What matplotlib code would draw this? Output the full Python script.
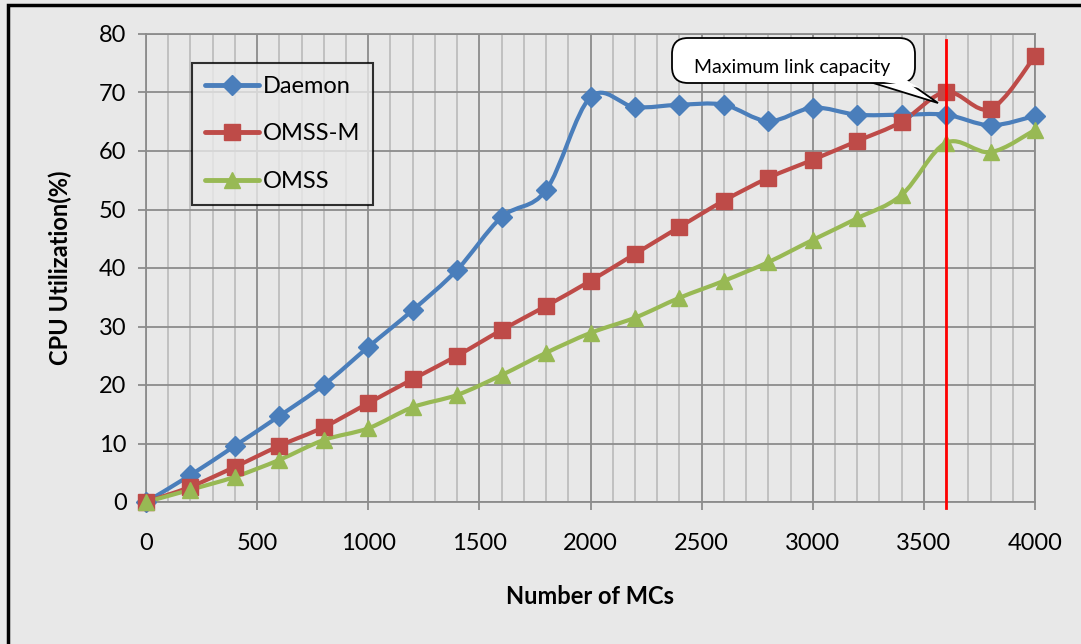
import numpy as np
import matplotlib.pyplot as plt
from matplotlib.path import Path
from matplotlib.patches import PathPatch, Rectangle, FancyBboxPatch, Polygon
from matplotlib.lines import Line2D

plt.rcParams['font.family'] = ['Lato', 'DejaVu Sans']

# Data
mcs = np.arange(0, 4001, 200)
daemon = [0, 4.6, 9.6, 14.7, 20.0, 26.5, 32.8, 39.7, 48.7, 53.3, 69.2,
          67.5, 67.9, 67.9, 65.1, 67.4, 66.2, 66.2, 66.2, 64.4, 66.0]
omss_m = [0, 2.6, 6.0, 9.6, 12.8, 16.9, 21.0, 25.0, 29.4, 33.5, 37.8,
          42.4, 47.0, 51.5, 55.4, 58.5, 61.7, 65.0, 70.1, 67.2, 76.2]
omss = [0, 2.1, 4.3, 7.2, 10.6, 12.6, 16.2, 18.3, 21.7, 25.5, 28.9,
        31.5, 34.9, 37.8, 41.0, 44.8, 48.5, 52.5, 61.4, 59.8, 63.6]
link_cap = 3600

bg = '#e8e8e8'
major_c = '#8c8c8c'
minor_c = '#bdbdbd'


def smooth_path(x, y):
    # Catmull-Rom style cubic Bezier through every point
    p = np.column_stack([x, y]).astype(float)
    ext = np.vstack([p[0], p, p[-1]])
    verts = [p[0]]
    codes = [Path.MOVETO]
    for i in range(1, len(ext) - 2):
        p0, p1, p2, p3 = ext[i - 1], ext[i], ext[i + 1], ext[i + 2]
        c1 = p1 + (p2 - p0) / 6
        c2 = p2 - (p3 - p1) / 6
        verts += [c1, c2, p2]
        codes += [Path.CURVE4] * 3
    return Path(verts, codes)


fig = plt.figure(figsize=(10.81, 6.44), dpi=100, facecolor=bg)
ax = fig.add_axes([146 / 1081, 1 - 502 / 644, (1035 - 146) / 1081, (502 - 34) / 644])
ax.set_facecolor(bg)

series = [
    ('Daemon', daemon, '#4a7ebb', 'D', 10),
    ('OMSS-M', omss_m, '#be4b48', 's', 12),
    ('OMSS', omss, '#98b954', '^', 12),
]
handles = []
for name, vals, col, mk, ms in series:
    ax.add_patch(PathPatch(smooth_path(mcs, vals), facecolor='none',
                           edgecolor=col, lw=3, capstyle='round', zorder=3))
    ax.plot(mcs, vals, ls='none', marker=mk, ms=ms, color=col,
            markeredgecolor=col, zorder=4, clip_on=False)
    handles.append(Line2D([], [], color=col, lw=3.5, marker=mk, ms=ms,
                          markeredgecolor=col, solid_capstyle='round'))

ax.set_xlim(0, 4000)
ax.set_ylim(0, 80)
ax.set_xticks(np.arange(0, 4001, 500))
ax.set_xticks(np.arange(0, 4001, 100), minor=True)
ax.set_yticks(np.arange(0, 81, 10))
ax.grid(which='major', color=major_c, lw=1.3, zorder=0)
ax.grid(which='minor', axis='x', color=minor_c, lw=1.3, zorder=0)
ax.set_axisbelow(True)
for s in ax.spines.values():
    s.set_color(major_c)
    s.set_linewidth(1.3)
ax.tick_params(which='major', direction='out', length=6, width=1.3,
               color=major_c, labelsize=17, pad=8)
ax.tick_params(axis='x', pad=16)
ax.tick_params(which='minor', length=0)

ax.set_xlabel('Number of MCs', fontsize=17, fontweight='bold')
ax.set_ylabel('CPU Utilization(%)', fontsize=17, fontweight='bold')
ax.xaxis.set_label_coords(0.5, -(597 - 502) / 468)
ax.yaxis.set_label_coords(-(146 - 60) / 889, 0.5)
ax.xaxis.label.set_va('center')
ax.yaxis.label.set_va('center')

# Maximum link capacity marker
ax.plot([link_cap, link_cap], [-1.0, 79], color='#ff0000', lw=2, zorder=5, clip_on=False)

# Callout, laid out in inches so the corners stay round
tr = fig.dpi_scale_trans
H = 6.44
bl, br, bt, bb = 6.72, 9.15, H - 0.38, H - 0.83
tip = (9.38, H - 1.03)
fig.patches.append(Polygon([[8.70, bb + 0.01], [9.05, bb + 0.03], tip], closed=True,
                           transform=tr, facecolor='white', edgecolor='black',
                           lw=1.3, zorder=6))
fig.patches.append(FancyBboxPatch((bl, bb), br - bl, bt - bb,
                                  boxstyle='round,pad=0,rounding_size=0.16',
                                  transform=tr, facecolor='white',
                                  edgecolor='black', lw=1.3, zorder=7))
fig.patches.append(Polygon([[8.72, bb + 0.03], [9.03, bb + 0.05], [9.20, bb - 0.05]],
                           closed=True, transform=tr, facecolor='white',
                           edgecolor='none', zorder=8))
fig.text(7.92, H - 0.67, 'Maximum link capacity', transform=tr, ha='center',
         va='center', fontsize=14, zorder=9)

leg = ax.legend(handles, [s[0] for s in series], loc='upper left',
                bbox_to_anchor=((192 - 146) / 889, (502 - 63) / 468),
                fontsize=17, frameon=True, fancybox=False, borderpad=0.55,
                labelspacing=1.12, handlelength=2.3, handletextpad=0.15,
                borderaxespad=0)
leg.get_frame().set_edgecolor('black')
leg.get_frame().set_linewidth(1.5)
leg.get_frame().set_facecolor(bg)

# Outer chart border
fig.patches.append(Rectangle((8 / 1081, -0.1), 1.2, 1 - 5 / 644 + 0.1,
                             transform=fig.transFigure, fill=False,
                             edgecolor='black', lw=2.5))

fig.savefig('out.png', dpi=100, facecolor=bg)
